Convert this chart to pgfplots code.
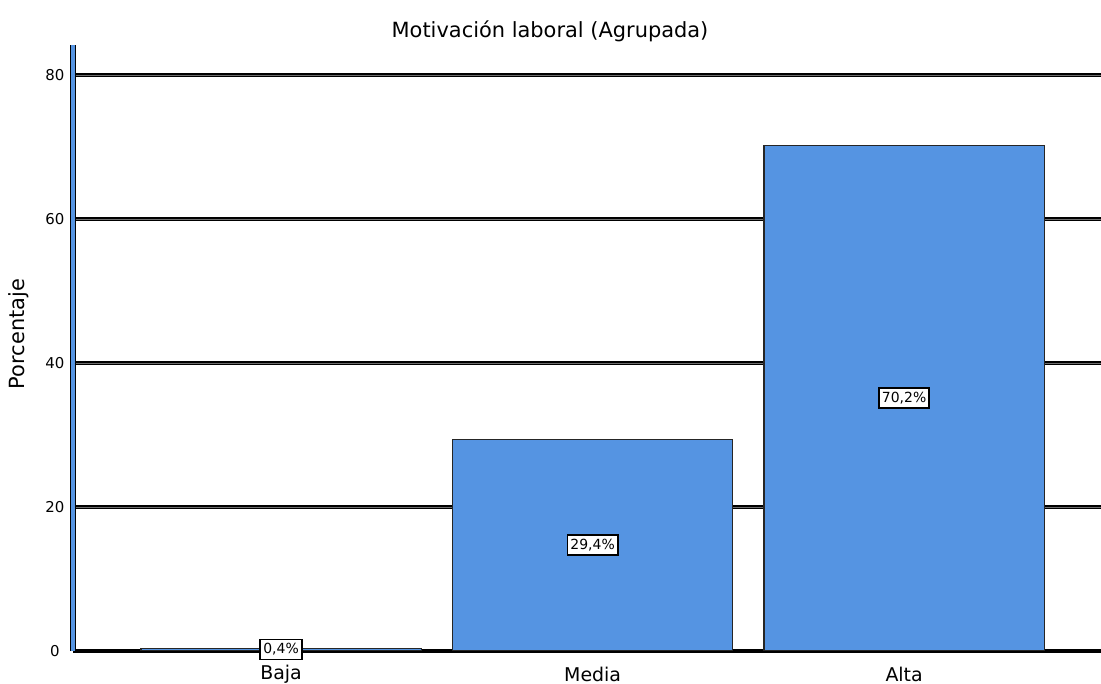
\documentclass[border=0pt]{standalone}
\usepackage{pgfplots}
\pgfplotsset{compat=1.18}
\usepackage{fontspec}
\setmainfont{DejaVu Sans}
\definecolor{barblue}{RGB}{85,148,226}
\definecolor{gridgray}{RGB}{110,110,110}

\begin{document}
\begin{tikzpicture}
\useasboundingbox (0,0) rectangle (1101bp,684bp);
\begin{axis}[
  at={(73bp,33bp)}, anchor=south west,
  scale only axis, width=1028bp, height=606bp,
  xmin=-0.668, xmax=2.632, ymin=0, ymax=84.2,
  axis x line*=bottom, axis y line*=left,
  x axis line style={-, draw=black, line width=1.6bp},
  y axis line style={-, draw=black, double=barblue, double distance=3bp, line width=1.1bp},
  ytick={0,20,40,60,80},
  xtick={0,1,2}, xticklabels={Baja,Media,Alta},
  major tick length=0pt,
  ymajorgrids,
  major grid style={draw=black, double=gridgray, double distance=1.1bp, line width=1.5bp},
  /pgf/number format/assume math mode=true,
  yticklabel style={anchor=center, xshift=-18bp, font=\fontsize{15}{15}\selectfont},
  xticklabel style={anchor=center, yshift=-23bp, font=\fontsize{19}{19}\selectfont},
  ybar, bar width=0.9,
  point meta=explicit symbolic,
  nodes near coords,
  visualization depends on={y \as \rawy},
  every node near coord/.append style={anchor=center,
    shift={(axis direction cs:0,-\rawy/2)},
    draw=black, line width=1.8bp, fill=white, inner xsep=3bp, inner ysep=4bp,
    font=\fontsize{14}{14}\selectfont},
]
\addplot[fill=barblue, draw=black!85, line width=1.2bp] table[meta=lab] {
x y    lab
0 0.4  0,4\%
1 29.4 29,4\%
2 70.2 70,2\%
};
\end{axis}
\node[font=\fontsize{21}{21}\selectfont] at (550bp,653bp) {Motivación laboral (Agrupada)};
\node[font=\fontsize{21}{21}\selectfont, rotate=90] at (19bp,350bp) {Porcentaje};
\end{tikzpicture}
\end{document}
